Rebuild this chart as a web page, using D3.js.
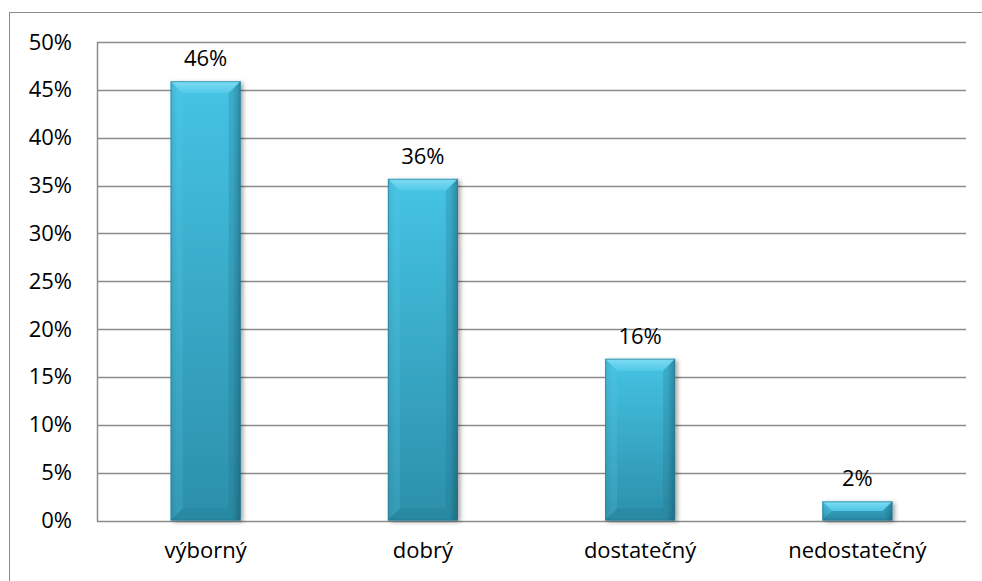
<!DOCTYPE html>
<html>
<head>
<meta charset="utf-8">
<script src="https://cdn.jsdelivr.net/npm/d3@7"></script>
<style>
  html, body { margin: 0; padding: 0; background: #fff; }
  svg { display: block; }
  text { font-family: "Open Sans", "Liberation Sans", sans-serif; fill: #000; }
</style>
</head>
<body>
<svg id="chart" width="982" height="581"></svg>
<script>
const categories = ["výborný", "dobrý", "dostatečný", "nedostatečný"];
const values = [0.459, 0.357, 0.169, 0.020];
const valueLabels = ["46%", "36%", "16%", "2%"];
const yTicks = [0, 0.05, 0.10, 0.15, 0.20, 0.25, 0.30, 0.35, 0.40, 0.45, 0.50];

const svg = d3.select("#chart");
const W = 982, H = 581;
const margin = { left: 97, top: 42, right: 16, bottom: 60 };
const plotW = W - margin.left - margin.right;
const plotH = H - margin.top - margin.bottom - 0.5;

// outer frame
svg.append("rect")
  .attr("x", 9.5).attr("y", 12.5)
  .attr("width", 980).attr("height", 600)
  .attr("fill", "none").attr("stroke", "#8a8a8a").attr("stroke-width", 1);

const pad = 1 - 70 / (plotW / categories.length);
const x = d3.scaleBand().domain(categories)
  .range([margin.left, margin.left + plotW])
  .paddingInner(pad).paddingOuter(pad / 2);
const y = d3.scaleLinear().domain([0, 0.5]).range([margin.top + plotH, margin.top]);

// defs
const defs = svg.append("defs");
const g1 = defs.append("linearGradient").attr("id", "barGrad")
  .attr("x1", 0).attr("y1", 0).attr("x2", 0).attr("y2", 1);
g1.append("stop").attr("offset", "0%").attr("stop-color", "#45C3E4");
g1.append("stop").attr("offset", "100%").attr("stop-color", "#2C8FAA");

const gh = defs.append("linearGradient").attr("id", "barH")
  .attr("x1", 0).attr("y1", 0).attr("x2", 1).attr("y2", 0);
gh.append("stop").attr("offset", "0%").attr("stop-color", "#000").attr("stop-opacity", 0.10);
gh.append("stop").attr("offset", "10%").attr("stop-color", "#000").attr("stop-opacity", 0);
gh.append("stop").attr("offset", "88%").attr("stop-color", "#000").attr("stop-opacity", 0);
gh.append("stop").attr("offset", "100%").attr("stop-color", "#000").attr("stop-opacity", 0.25);

const gt = defs.append("linearGradient").attr("id", "bevelTop")
  .attr("x1", 0).attr("y1", 0).attr("x2", 0).attr("y2", 1);
gt.append("stop").attr("offset", "0%").attr("stop-color", "#86E0F6");
gt.append("stop").attr("offset", "100%").attr("stop-color", "#52C9E8");

const f = defs.append("filter").attr("id", "shadow")
  .attr("x", "-20%").attr("y", "-20%").attr("width", "150%").attr("height", "150%");
f.append("feDropShadow").attr("dx", 2.5).attr("dy", 1.5).attr("stdDeviation", 2)
  .attr("flood-color", "#000").attr("flood-opacity", 0.35);

// gridlines
svg.append("g").selectAll("line").data(yTicks).join("line")
  .attr("x1", margin.left).attr("x2", margin.left + plotW)
  .attr("y1", d => Math.round(y(d)) + 0.5).attr("y2", d => Math.round(y(d)) + 0.5)
  .attr("stroke", "#8c8c8c").attr("stroke-width", 1.5);

// y axis line
svg.append("line")
  .attr("x1", margin.left + 0.5).attr("x2", margin.left + 0.5)
  .attr("y1", y(0.5)).attr("y2", y(0) + 1)
  .attr("stroke", "#8c8c8c").attr("stroke-width", 1.5);

// y tick labels via axis
const yAxis = d3.axisLeft(y).tickValues(yTicks)
  .tickFormat(d => Math.round(d * 100) + "%").tickSize(0).tickPadding(25);
const ya = svg.append("g").attr("transform", `translate(${margin.left},0)`).call(yAxis);
ya.select(".domain").remove();
ya.selectAll("text").style("font-size", "22px")
  .style("font-family", "'Open Sans', 'Liberation Sans', sans-serif").attr("fill", "#000");

// x labels via axis
const xAxis = d3.axisBottom(x).tickSize(0).tickPadding(22);
const xa = svg.append("g").attr("transform", `translate(0,${y(0)})`).call(xAxis);
xa.select(".domain").remove();
xa.selectAll("text").style("font-size", "22px")
  .style("font-family", "'Open Sans', 'Liberation Sans', sans-serif").attr("fill", "#000");

// bars
const bars = svg.append("g").selectAll("g").data(values).join("g")
  .attr("transform", (d, i) => `translate(${x(categories[i])},${y(d)})`);

const bw = x.bandwidth();
bars.each(function(d) {
  const g = d3.select(this);
  const h = y(0) - y(d);
  const b = Math.min(12, h / 2);
  g.append("rect").attr("width", bw).attr("height", h)
    .attr("fill", "url(#barGrad)").attr("filter", "url(#shadow)");
  g.append("rect").attr("width", bw).attr("height", h).attr("fill", "url(#barH)");
  // top bevel
  g.append("path")
    .attr("d", `M0,0 L${bw},0 L${bw - b},${b} L${b},${b} Z`)
    .attr("fill", "url(#bevelTop)").attr("opacity", 0.9);
  // left bevel
  g.append("path")
    .attr("d", `M0,0 L${b},${b} L${b},${h - b} L0,${h} Z`)
    .attr("fill", "#5CCDEB").attr("opacity", 0.2);
  // right bevel
  g.append("path")
    .attr("d", `M${bw},0 L${bw},${h} L${bw - b},${h - b} L${bw - b},${b} Z`)
    .attr("fill", "#1F6F86").attr("opacity", 0.25);
  // bottom bevel
  g.append("path")
    .attr("d", `M0,${h} L${b},${h - b} L${bw - b},${h - b} L${bw},${h} Z`)
    .attr("fill", "#1F6F86").attr("opacity", 0.2);
  // edge
  g.append("rect").attr("x", 0.5).attr("y", 0.5).attr("width", bw - 1).attr("height", h - 1)
    .attr("fill", "none").attr("stroke", "#23768E").attr("stroke-width", 1).attr("opacity", 0.6);
});

// value labels
svg.append("g").selectAll("text").data(values).join("text")
  .attr("x", (d, i) => x(categories[i]) + bw / 2)
  .attr("y", d => y(d) - 15)
  .attr("text-anchor", "middle")
  .style("font-size", "22px")
  .text((d, i) => valueLabels[i]);
</script>
</body>
</html>
